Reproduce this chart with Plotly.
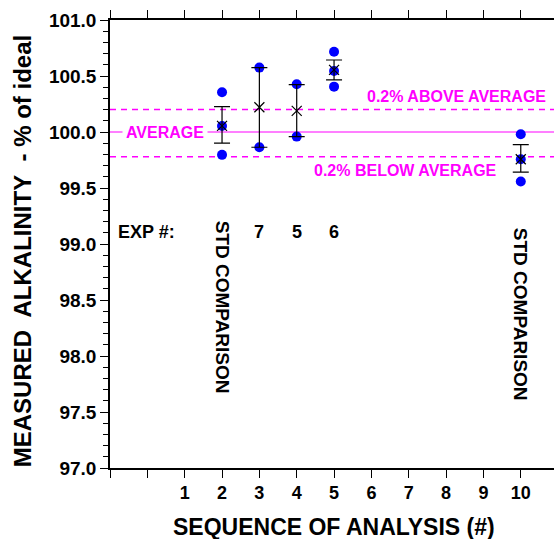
import plotly.graph_objects as go

# ---- data ----
dot_seq = [2, 2, 2, 3, 3, 4, 4, 5, 5, 5, 10, 10, 10]
dot_vals = [100.355, 100.054, 99.796, 100.575, 99.864, 100.426, 99.959,
            100.717, 100.545, 100.405, 99.980, 99.757, 99.558]

mean_seq = [2, 3, 4, 5, 10]
mean_vals = [100.054, 100.221, 100.188, 100.554, 99.757]
err_plus = [0.173, 0.354, 0.235, 0.089, 0.131]
err_minus = [0.154, 0.357, 0.229, 0.089, 0.116]

avg_level = 100.0
above_level = 100.2
below_level = 99.78

x_tickvals = [-1, 0, 1, 2, 3, 4, 5, 6, 7, 8, 9, 10]
x_ticktext = ["", "", "1", "2", "3", "4", "5", "6", "7", "8", "9", "10"]

exp_seq = [3, 4, 5]
exp_labels = ["7", "5", "6"]
std_seq = [2, 10]

FONT = "Liberation Sans, Arial, sans-serif"
MAGENTA = "#ff00ff"

fig = go.Figure()

fig.add_trace(go.Scatter(
    x=dot_seq, y=dot_vals, mode="markers",
    marker=dict(symbol="circle", size=10, color="#0000ff"),
    showlegend=False, hoverinfo="skip"))

fig.add_trace(go.Scatter(
    x=mean_seq, y=mean_vals, mode="markers",
    marker=dict(symbol="x-thin-open", size=10, color="black",
                line=dict(color="black", width=1.2)),
    error_y=dict(type="data", symmetric=False, array=err_plus,
                 arrayminus=err_minus, color="black", thickness=1.2, width=8),
    showlegend=False, hoverinfo="skip"))

shapes = [
    dict(type="line", xref="paper", x0=0, x1=1, yref="y", y0=avg_level, y1=avg_level,
         line=dict(color=MAGENTA, width=1.2), layer="below"),
    dict(type="line", xref="paper", x0=0, x1=1, yref="y", y0=above_level, y1=above_level,
         line=dict(color=MAGENTA, width=1.5, dash="6px,5px"), layer="below"),
    dict(type="line", xref="paper", x0=0, x1=1, yref="y", y0=below_level, y1=below_level,
         line=dict(color=MAGENTA, width=1.5, dash="6px,5px"), layer="below"),
]

ann = []
ann.append(dict(x=0.46, y=avg_level, xref="x", yref="y", text="AVERAGE",
                showarrow=False, bgcolor="white", borderpad=3,
                font=dict(family=FONT, size=16, color=MAGENTA, weight="bold")))
ann.append(dict(x=8.28, y=100.32, xref="x", yref="y", text="0.2% ABOVE AVERAGE",
                showarrow=False,
                font=dict(family=FONT, size=16, color=MAGENTA, weight="bold")))
ann.append(dict(x=6.90, y=99.653, xref="x", yref="y", text="0.2% BELOW AVERAGE",
                showarrow=False,
                font=dict(family=FONT, size=16, color=MAGENTA, weight="bold")))
ann.append(dict(x=-0.036, y=99.109, xref="x", yref="y", text="EXP #:",
                showarrow=False,
                font=dict(family=FONT, size=18, color="black", weight="bold")))
for sx, lab in zip(exp_seq, exp_labels):
    ann.append(dict(x=sx, y=99.109, xref="x", yref="y", text=lab, showarrow=False,
                    font=dict(family=FONT, size=18, color="black", weight="bold")))
for sx, cy in zip(std_seq, [98.44, 98.37]):
    ann.append(dict(x=sx, y=cy, xref="x", yref="y", text="STD COMPARISON",
                    textangle=90, showarrow=False,
                    font=dict(family=FONT, size=19, color="black", weight="bold")))
# axis titles
ann.append(dict(x=-0.198, y=0.484, xref="paper", yref="paper",
                text="MEASURED\u00a0 ALKALINITY\u00a0 - % of ideal",
                textangle=-90, showarrow=False, xanchor="center", yanchor="middle",
                font=dict(family=FONT, size=24, color="black", weight="bold")))
ann.append(dict(x=0.5045, y=-0.132, xref="paper", yref="paper",
                text="SEQUENCE OF ANALYSIS (#)", showarrow=False,
                xanchor="center", yanchor="middle",
                font=dict(family=FONT, size=23, color="black", weight="bold")))

fig.update_layout(
    width=554, height=539,
    margin=dict(l=110, r=0, t=20, b=71),
    paper_bgcolor="white", plot_bgcolor="white",
    shapes=shapes, annotations=ann, showlegend=False,
    xaxis=dict(range=[-1, 10.89], tickmode="array", tickvals=x_tickvals,
               ticktext=x_ticktext, ticks="outside", ticklen=8, tickwidth=1.2,
               tickcolor="black", showline=True, linecolor="black", linewidth=1.5,
               mirror="ticks", showgrid=False, zeroline=False,
               tickfont=dict(family=FONT, size=18, color="black", weight="bold")),
    yaxis=dict(range=[97.0, 101.0], tick0=97.0, dtick=0.5, tickformat=".1f",
               ticks="outside", ticklen=8, tickwidth=1.2, tickcolor="black",
               showline=True, linecolor="black", linewidth=1.5, showgrid=False,
               zeroline=False,
               minor=dict(dtick=0.1, ticks="outside", ticklen=5, tickwidth=1.2,
                          tickcolor="black", showgrid=False),
               tickfont=dict(family=FONT, size=19, color="black", weight="bold")),
)

fig.write_html("out.html")
